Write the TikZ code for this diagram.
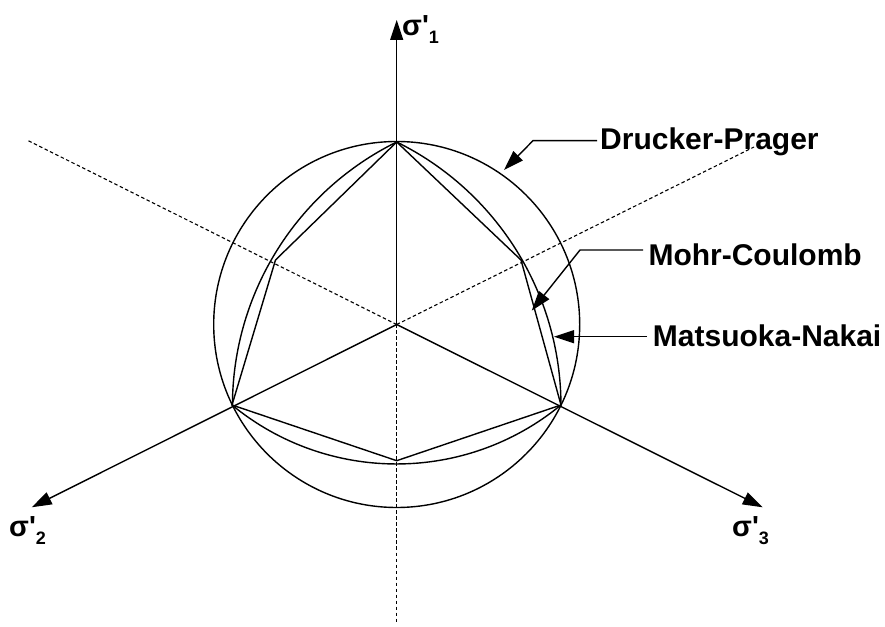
\documentclass[tikz,border=0pt]{standalone}
\usepackage{fontspec}
\setmainfont{Liberation Sans}
\usetikzlibrary{arrows.meta}
\newcommand\lsub[1]{\raisebox{-8pt}{\fontsize{18}{18}\selectfont #1}}
\begin{document}
\begin{tikzpicture}[x=1pt,y=1pt,
  solidline/.style={line width=1.4pt},
  dashline/.style={line width=1.1pt, dash pattern=on 3.5pt off 2.5pt},
  axisarrow/.style={-{Triangle[length=20pt,width=13pt]}},
  leader/.style={line width=1.4pt, -{Triangle[length=20pt,width=13pt]}},
  lbl/.style={font=\fontsize{30}{32}\selectfont\bfseries, inner sep=0pt},
  sig/.style={font=\fontsize{29}{30}\selectfont\bfseries, inner sep=0pt}]
\useasboundingbox (0,0) rectangle (885,626);
% key points
\coordinate (O) at (396.7,301.5);
\coordinate (T) at (396.7,484);
\coordinate (UR) at (521,366);
\coordinate (LR) at (561,221);
\coordinate (B) at (396.7,165.3);
\coordinate (LL) at (232,221);
\coordinate (UL) at (275.5,366);
% dashed axes
\coordinate (d1) at (28.3,485.3);
\coordinate (d2) at (754,479);
\coordinate (d3) at (396.7,2);
\draw[dashline] (O) -- (d1);
\draw[dashline] (O) -- (d2);
\draw[dashline] (O) -- (d3);
% principal axes
\coordinate (s1) at (396.7,606);
\coordinate (s2) at (31.7,118.7);
\coordinate (s3) at (762.7,118.7);
\draw[solidline, axisarrow] (O) -- (s1);
\draw[solidline, axisarrow] (O) -- (s2);
\draw[solidline, axisarrow] (O) -- (s3);
% Drucker-Prager
\draw[solidline] (O) circle[radius=183];
% Mohr-Coulomb
\draw[solidline, line join=miter] (T) -- (UR) -- (LR) -- (B) -- (LL) -- (UL) -- cycle;
% Matsuoka-Nakai
\draw[solidline] (T) arc[start angle=63.78, end angle=0.2, radius=294.3];
\draw[solidline] (T) arc[start angle=116.22, end angle=179.8, radius=294.3];
\draw[solidline] (LL) arc[start angle=-129.46, end angle=-50.54, radius=258.8];
% axis labels
\node[sig, anchor=base west] (l1) at (402,590) {σ\textquotesingle\lsub{1}};
\node[sig, anchor=base west] (l2) at (9,89) {σ\textquotesingle\lsub{2}};
\node[sig, anchor=base west] (l3) at (732,89) {σ\textquotesingle\lsub{3}};
% criterion labels
\node[lbl, anchor=base west] (dp) at (600,476.5) {Drucker-Prager};
\node[lbl, anchor=base west] (mc) at (648.3,360) {Mohr-Coulomb};
\node[lbl, anchor=base west] (mn) at (652.7,279.3) {Matsuoka-Nakai};
% leaders
\coordinate (dpS) at (597,485.3);
\coordinate (dpK) at (533,485.3);
\coordinate (dpT) at (504,456);
\draw[leader] (dpS) -- (dpK) -- (dpT);
\coordinate (mcS) at (643,376);
\coordinate (mcK) at (580,376);
\coordinate (mcT) at (531.7,315.3);
\draw[leader] (mcS) -- (mcK) -- (mcT);
\coordinate (mnS) at (647,289.3);
\coordinate (mnT) at (554,289.3);
\draw[leader] (mnS) -- (mnT);
\end{tikzpicture}
\end{document}
